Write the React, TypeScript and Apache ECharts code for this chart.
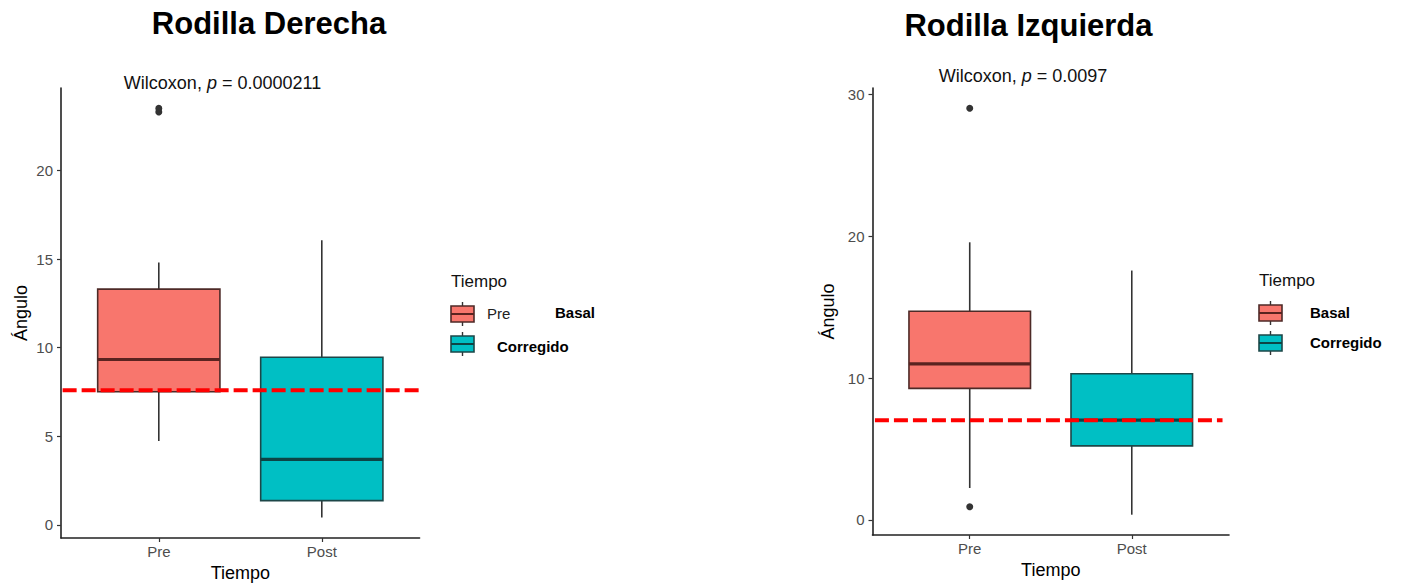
import React, { useEffect, useRef } from "react";
import * as echarts from "echarts";

const categories = ["Pre", "Post"];
// [low whisker, Q1, median, Q3, high whisker]
const derechaStats = [
  [4.73, 7.51, 9.33, 13.3, 14.8],
  [0.41, 1.37, 3.7, 9.46, 16.06],
];
const derechaOutliers = [[1, 23.3], [1, 23.5]];
const derechaThreshold = 7.6;

const izquierdaStats = [
  [2.25, 9.27, 11.0, 14.7, 19.56],
  [0.37, 5.22, 7.03, 10.3, 17.57],
];
const izquierdaOutliers = [[1, 29.0], [1, 0.93]];
const izquierdaThreshold = 7.03;

const yTicksDerecha = [0, 5, 10, 15, 20];
const yTicksIzquierda = [0, 10, 20, 30];

const fills = ["#F8766D", "#00BFC4"];
const outlines = ["#4d2a27", "#1d4748"];
const medians = ["#5a2320", "#0d4445"];
const FONT = "'Liberation Sans', Arial, Helvetica, sans-serif";

function boxSeries(stats: number[][], idx: number) {
  return {
    type: "custom",
    xAxisIndex: idx,
    yAxisIndex: idx,
    clip: false,
    data: stats.map((s, i) => [i + 1, ...s, i]),
    renderItem: (params: any, api: any) => {
      const x = api.value(0);
      const lo = api.value(1);
      const q1 = api.value(2);
      const md = api.value(3);
      const q3 = api.value(4);
      const hi = api.value(5);
      const ci = api.value(6);
      const hw = 0.375;
      const pHi = api.coord([x, hi]);
      const pQ3 = api.coord([x, q3]);
      const pQ1 = api.coord([x, q1]);
      const pLo = api.coord([x, lo]);
      const l = api.coord([x - hw, q3]);
      const r = api.coord([x + hw, q1]);
      const mL = api.coord([x - hw, md]);
      const mR = api.coord([x + hw, md]);
      return {
        type: "group",
        children: [
          {
            type: "line",
            shape: { x1: pHi[0], y1: pHi[1], x2: pQ3[0], y2: pQ3[1] },
            style: { stroke: "#333333", lineWidth: 1.6 },
          },
          {
            type: "line",
            shape: { x1: pQ1[0], y1: pQ1[1], x2: pLo[0], y2: pLo[1] },
            style: { stroke: "#333333", lineWidth: 1.6 },
          },
          {
            type: "rect",
            shape: { x: l[0], y: l[1], width: r[0] - l[0], height: r[1] - l[1] },
            style: { fill: fills[ci], stroke: outlines[ci], lineWidth: 1.6 },
          },
          {
            type: "line",
            shape: { x1: mL[0], y1: mL[1], x2: mR[0], y2: mR[1] },
            style: { stroke: medians[ci], lineWidth: 3.2 },
          },
        ],
      };
    },
    z: 2,
  };
}

function legendGraphics(x: number, y0: number, labels: { text: string; x: number; dy: number; bold: boolean }[][]) {
  const els: any[] = [
    {
      type: "text",
      left: x,
      top: y0 - 10,
      style: { text: "Tiempo", font: `17px ${FONT}`, fill: "#111" },
    },
  ];
  const centers = [y0 + 31, y0 + 61];
  centers.forEach((cy, i) => {
    els.push({
      type: "line",
      shape: { x1: x + 11.5, y1: cy - 12, x2: x + 11.5, y2: cy + 12 },
      style: { stroke: "#333", lineWidth: 1.4 },
    });
    els.push({
      type: "rect",
      shape: { x: x, y: cy - 8, width: 23, height: 16 },
      style: { fill: fills[i], stroke: outlines[i], lineWidth: 1.6 },
    });
    els.push({
      type: "line",
      shape: { x1: x, y1: cy, x2: x + 23, y2: cy },
      style: { stroke: medians[i], lineWidth: 2 },
    });
    labels[i].forEach((lb) => {
      els.push({
        type: "text",
        x: lb.x,
        y: cy + lb.dy,
        style: {
          text: lb.text,
          font: `${lb.bold ? "bold 15px" : "15px"} ${FONT}`,
          fill: lb.bold ? "#000" : "#222",
          verticalAlign: "middle",
        },
      });
    });
  });
  return els;
}

function xAxis(idx: number) {
  return {
    type: "value",
    gridIndex: idx,
    min: 0.4,
    max: 2.6,
    name: "Tiempo",
    nameLocation: "middle",
    nameGap: 25,
    nameTextStyle: { fontFamily: FONT, fontSize: 18, color: "#000" },
    splitLine: { show: false },
    axisLine: { show: true, onZero: false, lineStyle: { color: "#222", width: 1.6 } },
    axisTick: { show: true, length: 4, customValues: [1, 2], lineStyle: { color: "#333", width: 1.2 } },
    axisLabel: {
      customValues: [1, 2],
      margin: 6,
      fontFamily: FONT,
      fontSize: 15,
      color: "#4d4d4d",
      formatter: (v: number) => categories[Math.round(v) - 1] ?? "",
    },
  };
}

function yAxis(idx: number, min: number, max: number, ticks: number[], gap: number) {
  return {
    type: "value",
    gridIndex: idx,
    min,
    max,
    name: "Ángulo",
    nameLocation: "middle",
    nameRotate: 90,
    nameGap: gap,
    nameTextStyle: { fontFamily: FONT, fontSize: 18, color: "#000" },
    splitLine: { show: false },
    axisLine: { show: true, onZero: false, lineStyle: { color: "#222", width: 1.6 } },
    axisTick: { show: true, length: 4, customValues: ticks, lineStyle: { color: "#333", width: 1.2 } },
    axisLabel: {
      customValues: ticks,
      margin: 8,
      fontFamily: FONT,
      fontSize: 15,
      color: "#4d4d4d",
    },
  };
}

export default function App() {
  const ref = useRef<HTMLDivElement>(null);
  useEffect(() => {
    if (!ref.current) return;
    const chart = echarts.init(ref.current, undefined, { renderer: "svg" });
    const dashed = (idx: number, y: number, x0: number, x1: number) => ({
      type: "line",
      xAxisIndex: idx,
      yAxisIndex: idx,
      clip: false,
      symbol: "none",
      data: [
        [x0, y],
        [x1, y],
      ],
      lineStyle: { color: "#ff0000", width: 4, type: [14, 5] },
      z: 5,
    });
    const outliers = (idx: number, pts: number[][]) => ({
      type: "scatter",
      xAxisIndex: idx,
      yAxisIndex: idx,
      data: pts,
      symbolSize: 7,
      itemStyle: { color: "#333333", opacity: 1 },
      z: 3,
    });
    chart.setOption({
      animation: false,
      backgroundColor: "#ffffff",
      grid: [
        { left: 61, top: 88, width: 358.6, height: 450 },
        { left: 872.5, top: 88, width: 356.5, height: 447 },
      ],
      xAxis: [xAxis(0), xAxis(1)],
      yAxis: [
        yAxis(0, -0.74, 24.65, yTicksDerecha, 31),
        yAxis(1, -1.06, 30.43, yTicksIzquierda, 36),
      ],
      series: [
        boxSeries(derechaStats, 0),
        outliers(0, derechaOutliers),
        dashed(0, derechaThreshold, 0.41, 2.66),
        boxSeries(izquierdaStats, 1),
        outliers(1, izquierdaOutliers),
        dashed(1, izquierdaThreshold, 0.415, 2.56),
      ],
      graphic: [
        {
          type: "text",
          x: 269,
          y: 23,
          style: { text: "Rodilla Derecha", font: `bold 31px ${FONT}`, fill: "#000", align: "center", verticalAlign: "middle" },
        },
        {
          type: "text",
          x: 1028.5,
          y: 25,
          style: { text: "Rodilla Izquierda", font: `bold 31px ${FONT}`, fill: "#000", align: "center", verticalAlign: "middle" },
        },
        {
          type: "text",
          x: 222.5,
          y: 83,
          style: {
            text: "Wilcoxon, {i|p} = 0.0000211",
            font: `18px ${FONT}`,
            fill: "#111",
            align: "center",
            verticalAlign: "middle",
            rich: { i: { fontStyle: "italic", fontSize: 18, fontFamily: FONT, fill: "#111" } },
          },
        },
        {
          type: "text",
          x: 1023,
          y: 76,
          style: {
            text: "Wilcoxon, {i|p} = 0.0097",
            font: `18px ${FONT}`,
            fill: "#111",
            align: "center",
            verticalAlign: "middle",
            rich: { i: { fontStyle: "italic", fontSize: 18, fontFamily: FONT, fill: "#111" } },
          },
        },
        ...legendGraphics(451, 283, [
          [
            { text: "Pre", x: 487, dy: -1, bold: false },
            { text: "Basal", x: 555, dy: -2, bold: true },
          ],
          [{ text: "Corregido", x: 497, dy: 2, bold: true }],
        ]),
        ...legendGraphics(1259, 282, [
          [{ text: "Basal", x: 1310, dy: -1, bold: true }],
          [{ text: "Corregido", x: 1310, dy: -1, bold: true }],
        ]),
      ],
    });
    return () => chart.dispose();
  }, []);
  return (
    <div
      ref={ref}
      style={{ position: "fixed", left: 0, top: 0, width: 1404, height: 588 }}
    />
  );
}
